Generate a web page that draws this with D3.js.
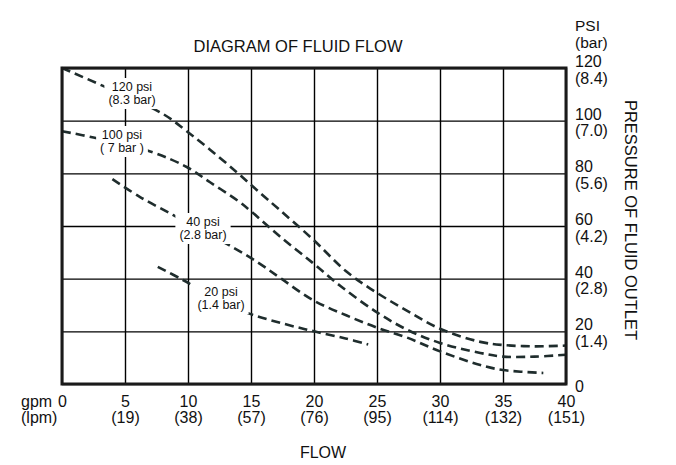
<!DOCTYPE html>
<html>
<head>
<meta charset="utf-8">
<script src="https://cdn.jsdelivr.net/npm/d3@7"></script>
<style>
  html, body { margin: 0; padding: 0; background: #fff; }
  svg { display: block; font-family: "Liberation Sans", Arial, sans-serif; }
</style>
</head>
<body>
<svg id="chart" width="676" height="465"></svg>
<script>
// ---- data ----
const gpmTicks = [0, 5, 10, 15, 20, 25, 30, 35, 40];
const lpmLabels = ["", "(19)", "(38)", "(57)", "(76)", "(95)", "(114)", "(132)", "(151)"];
const psiTicks = [0, 20, 40, 60, 80, 100, 120];
const barLabels = ["", "(1.4)", "(2.8)", "(4.2)", "(5.6)", "(7.0)", "(8.4)"];

const seriesNames = ["120 psi", "100 psi", "40 psi", "20 psi"];
const seriesBar = ["(8.3 bar)", "( 7 bar )", "(2.8 bar)", "(1.4 bar)"];

// [gpm, psi]
const curve120 = [[0,120],[3.25,113.2],[8,102.6],[9.9,96],[11.75,89],[13.9,80.3],[15.5,73.5],[17.3,66],[19.9,55],[22.6,42.6],[25,34.6],[27.4,27.8],[30,21],[33.2,16],[35,14.8],[37.5,14.3],[40,14.6]];
const curve100 = [[0,96],[2.5,93.6],[7,88.3],[9.9,82.4],[11.75,76.6],[13.9,69.8],[15,65.6],[17.3,56],[19.9,46],[22.1,37.2],[25,27.2],[27.4,20.6],[30,15.6],[33.2,11.8],[35,10.4],[37.5,10.4],[40,11.1]];
const curve40 = [[4,77.8],[6.2,71],[8.8,64.2],[11,58.2],[13.3,52.6],[15.5,46.3],[17.4,40],[19.9,31.9],[22.6,26],[25,21.4],[27.4,17.6],[30,12.4],[33.2,7.2],[35,5.3],[38.2,4.2]];
const curve20 = [[7.6,44.5],[9.6,39.5],[12,33],[14.7,27],[17.5,23],[20,20],[22.5,17.3],[24.3,15]];
const curves = [curve120, curve100, curve40, curve20];

// ---- layout ----
const L = 62, R = 566, T = 68, B = 384;
const labelPos = [[132, 91], [122, 139], [203, 226], [221, 296]]; // center x, first baseline
const svg = d3.select("#chart");
const x = d3.scaleLinear().domain([0, 40]).range([L, R]);
const y = d3.scaleLinear().domain([0, 120]).range([B, T]);

// grid
const gx = svg.append("g").attr("transform", `translate(0,${B})`)
  .call(d3.axisBottom(x).tickValues(gpmTicks).tickSize(-(B - T)).tickFormat(""));
gx.select(".domain").remove();
gx.selectAll("line").attr("stroke", "#000").attr("stroke-width", 1.4);
const gy = svg.append("g").attr("transform", `translate(${L},0)`)
  .call(d3.axisLeft(y).tickValues(psiTicks).tickSize(-(R - L)).tickFormat(""));
gy.select(".domain").remove();
gy.selectAll("line").attr("stroke", "#000").attr("stroke-width", 1.4);

// curves
const line = d3.line().x(d => x(d[0])).y(d => y(d[1])).curve(d3.curveCatmullRom.alpha(0.5));
svg.append("g").selectAll("path").data(curves).join("path")
  .attr("d", line)
  .attr("fill", "none")
  .attr("stroke", "#1f2d2d")
  .attr("stroke-width", 2.6)
  .attr("stroke-dasharray", "9,5");

// curve labels with white boxes
seriesNames.forEach((name, i) => {
  const g = svg.append("g");
  const [cx, by] = labelPos[i];
  const rect = g.append("rect").attr("fill", "#fff");
  const t = g.append("text").attr("text-anchor", "middle").attr("font-size", 12.5).attr("fill", "#111");
  t.append("tspan").attr("x", cx).attr("y", by).text(name);
  t.append("tspan").attr("x", cx).attr("y", by + 13).text(seriesBar[i]);
  const bb = t.node().getBBox();
  rect.attr("x", bb.x - 4).attr("y", bb.y - 2).attr("width", bb.width + 8).attr("height", bb.height + 4);
});

// border
svg.append("rect").attr("x", L).attr("y", T).attr("width", R - L).attr("height", B - T)
  .attr("fill", "none").attr("stroke", "#1a1a1a").attr("stroke-width", 3);

// bottom axis labels
const ax = svg.append("g").attr("transform", `translate(0,${B})`)
  .call(d3.axisBottom(x).tickValues(gpmTicks).tickSize(0).tickFormat(d => d));
ax.select(".domain").remove();
ax.selectAll("text").attr("y", 23).attr("dy", 0).attr("font-size", 16).attr("fill", "#111")
  .attr("font-family", "Liberation Sans, Arial, sans-serif");
ax.selectAll(".tick").append("text")
  .attr("y", 39).attr("text-anchor", "middle").attr("font-size", 16).attr("fill", "#111")
  .attr("font-family", "Liberation Sans, Arial, sans-serif")
  .text((d, i) => lpmLabels[i]);
svg.append("text").attr("x", 21).attr("y", 407).attr("font-size", 16).attr("fill", "#111").text("gpm");
svg.append("text").attr("x", 21).attr("y", 423).attr("font-size", 16).attr("fill", "#111").text("(lpm)");

// right axis labels
const ay = svg.append("g").attr("transform", `translate(${R},0)`)
  .call(d3.axisRight(y).tickValues(psiTicks).tickSize(0).tickPadding(9).tickFormat(d => d));
ay.select(".domain").remove();
ay.selectAll("text").attr("dy", d => d === 0 ? 7 : -1.5).attr("font-size", 16).attr("fill", "#111")
  .attr("font-family", "Liberation Sans, Arial, sans-serif");
ay.selectAll(".tick").append("text")
  .attr("x", 9).attr("dy", 15).attr("font-size", 16).attr("fill", "#111")
  .attr("font-family", "Liberation Sans, Arial, sans-serif")
  .text((d, i) => barLabels[i]);
svg.append("text").attr("x", 575).attr("y", 31).attr("font-size", 15.5).attr("fill", "#111").text("PSI");
svg.append("text").attr("x", 575).attr("y", 48).attr("font-size", 15.5).attr("fill", "#111").text("(bar)");

// titles
svg.append("text").attr("x", 298).attr("y", 52).attr("text-anchor", "middle")
  .attr("font-size", 16.5).attr("fill", "#111").text("DIAGRAM OF FLUID FLOW");
svg.append("text").attr("x", 323).attr("y", 458).attr("text-anchor", "middle")
  .attr("font-size", 16).attr("fill", "#111").text("FLOW");
svg.append("text").attr("transform", "translate(625,220) rotate(90)").attr("text-anchor", "middle")
  .attr("font-size", 16.5).attr("fill", "#111").text("PRESSURE OF FLUID OUTLET");
</script>
</body>
</html>
